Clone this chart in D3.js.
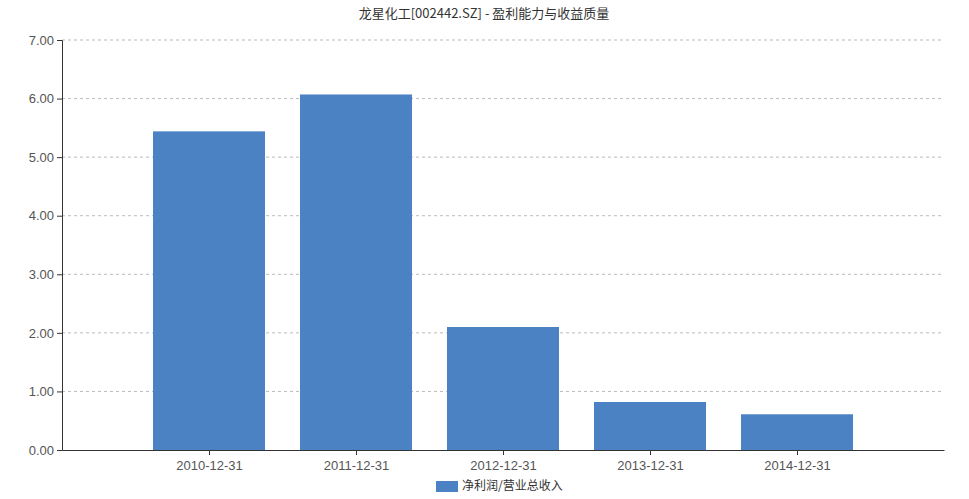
<!DOCTYPE html>
<html><head><meta charset="utf-8">
<script src="https://cdn.jsdelivr.net/npm/d3@7"></script>
<style>body{margin:0;background:#fff;font-family:"Noto Sans CJK SC","Noto Sans",sans-serif;}</style>
</head><body>
<svg id="c" width="969" height="499"></svg>
<script>
const categories = ["2010-12-31","2011-12-31","2012-12-31","2013-12-31","2014-12-31"];
const values = [5.44, 6.07, 2.10, 0.82, 0.61];
const yTicks = [0,1,2,3,4,5,6,7];
const seriesName = "净利润/营业总收入";
const title = "龙星化工[002442.SZ] - 盈利能力与收益质量";

const svg = d3.select("#c");
const L=62,R=944,T=40,B=450;
const x = d3.scaleLinear().domain([0,categories.length+1]).range([L,R]);
const y = d3.scaleLinear().domain([0,7]).range([B,T]);
const bw = 112;

svg.append("text").attr("x",484).attr("y",18).attr("text-anchor","middle")
  .attr("font-size",13).attr("fill","#333").text(title);

svg.append("g").selectAll("line").data(yTicks.filter(d=>d>0)).join("line")
  .attr("x1",L).attr("x2",R).attr("y1",d=>y(d)).attr("y2",d=>y(d))
  .attr("stroke","#bbb").attr("stroke-dasharray","3,3");

svg.append("g").selectAll("rect").data(values).join("rect")
  .attr("x",(d,i)=>x(i+1)-bw/2).attr("width",bw)
  .attr("y",d=>y(d)).attr("height",d=>B-y(d)).attr("fill","#4a82c3");

const ya = svg.append("g").attr("transform",`translate(${L},0)`)
  .call(d3.axisLeft(y).tickValues(yTicks).tickFormat(d3.format(".2f")).tickSize(5));
ya.selectAll("text").attr("font-size",13).attr("fill","#555");
ya.selectAll("line,path").attr("stroke","#333");

const xa = svg.append("g").attr("transform",`translate(0,${B})`)
  .call(d3.axisBottom(x).tickValues(categories.map((c,i)=>i+1)).tickFormat((d)=>categories[d-1]).tickSize(5).tickSizeOuter(0));
xa.selectAll("text").attr("font-size",13).attr("fill","#555").attr("dy","0.9em");
xa.selectAll("line,path").attr("stroke","#333");

svg.append("rect").attr("x",436).attr("y",481).attr("width",22).attr("height",11).attr("fill","#4a82c3");
svg.append("text").attr("x",462).attr("y",490).attr("font-size",12).attr("fill","#333").text(seriesName);
</script>
</body></html>
